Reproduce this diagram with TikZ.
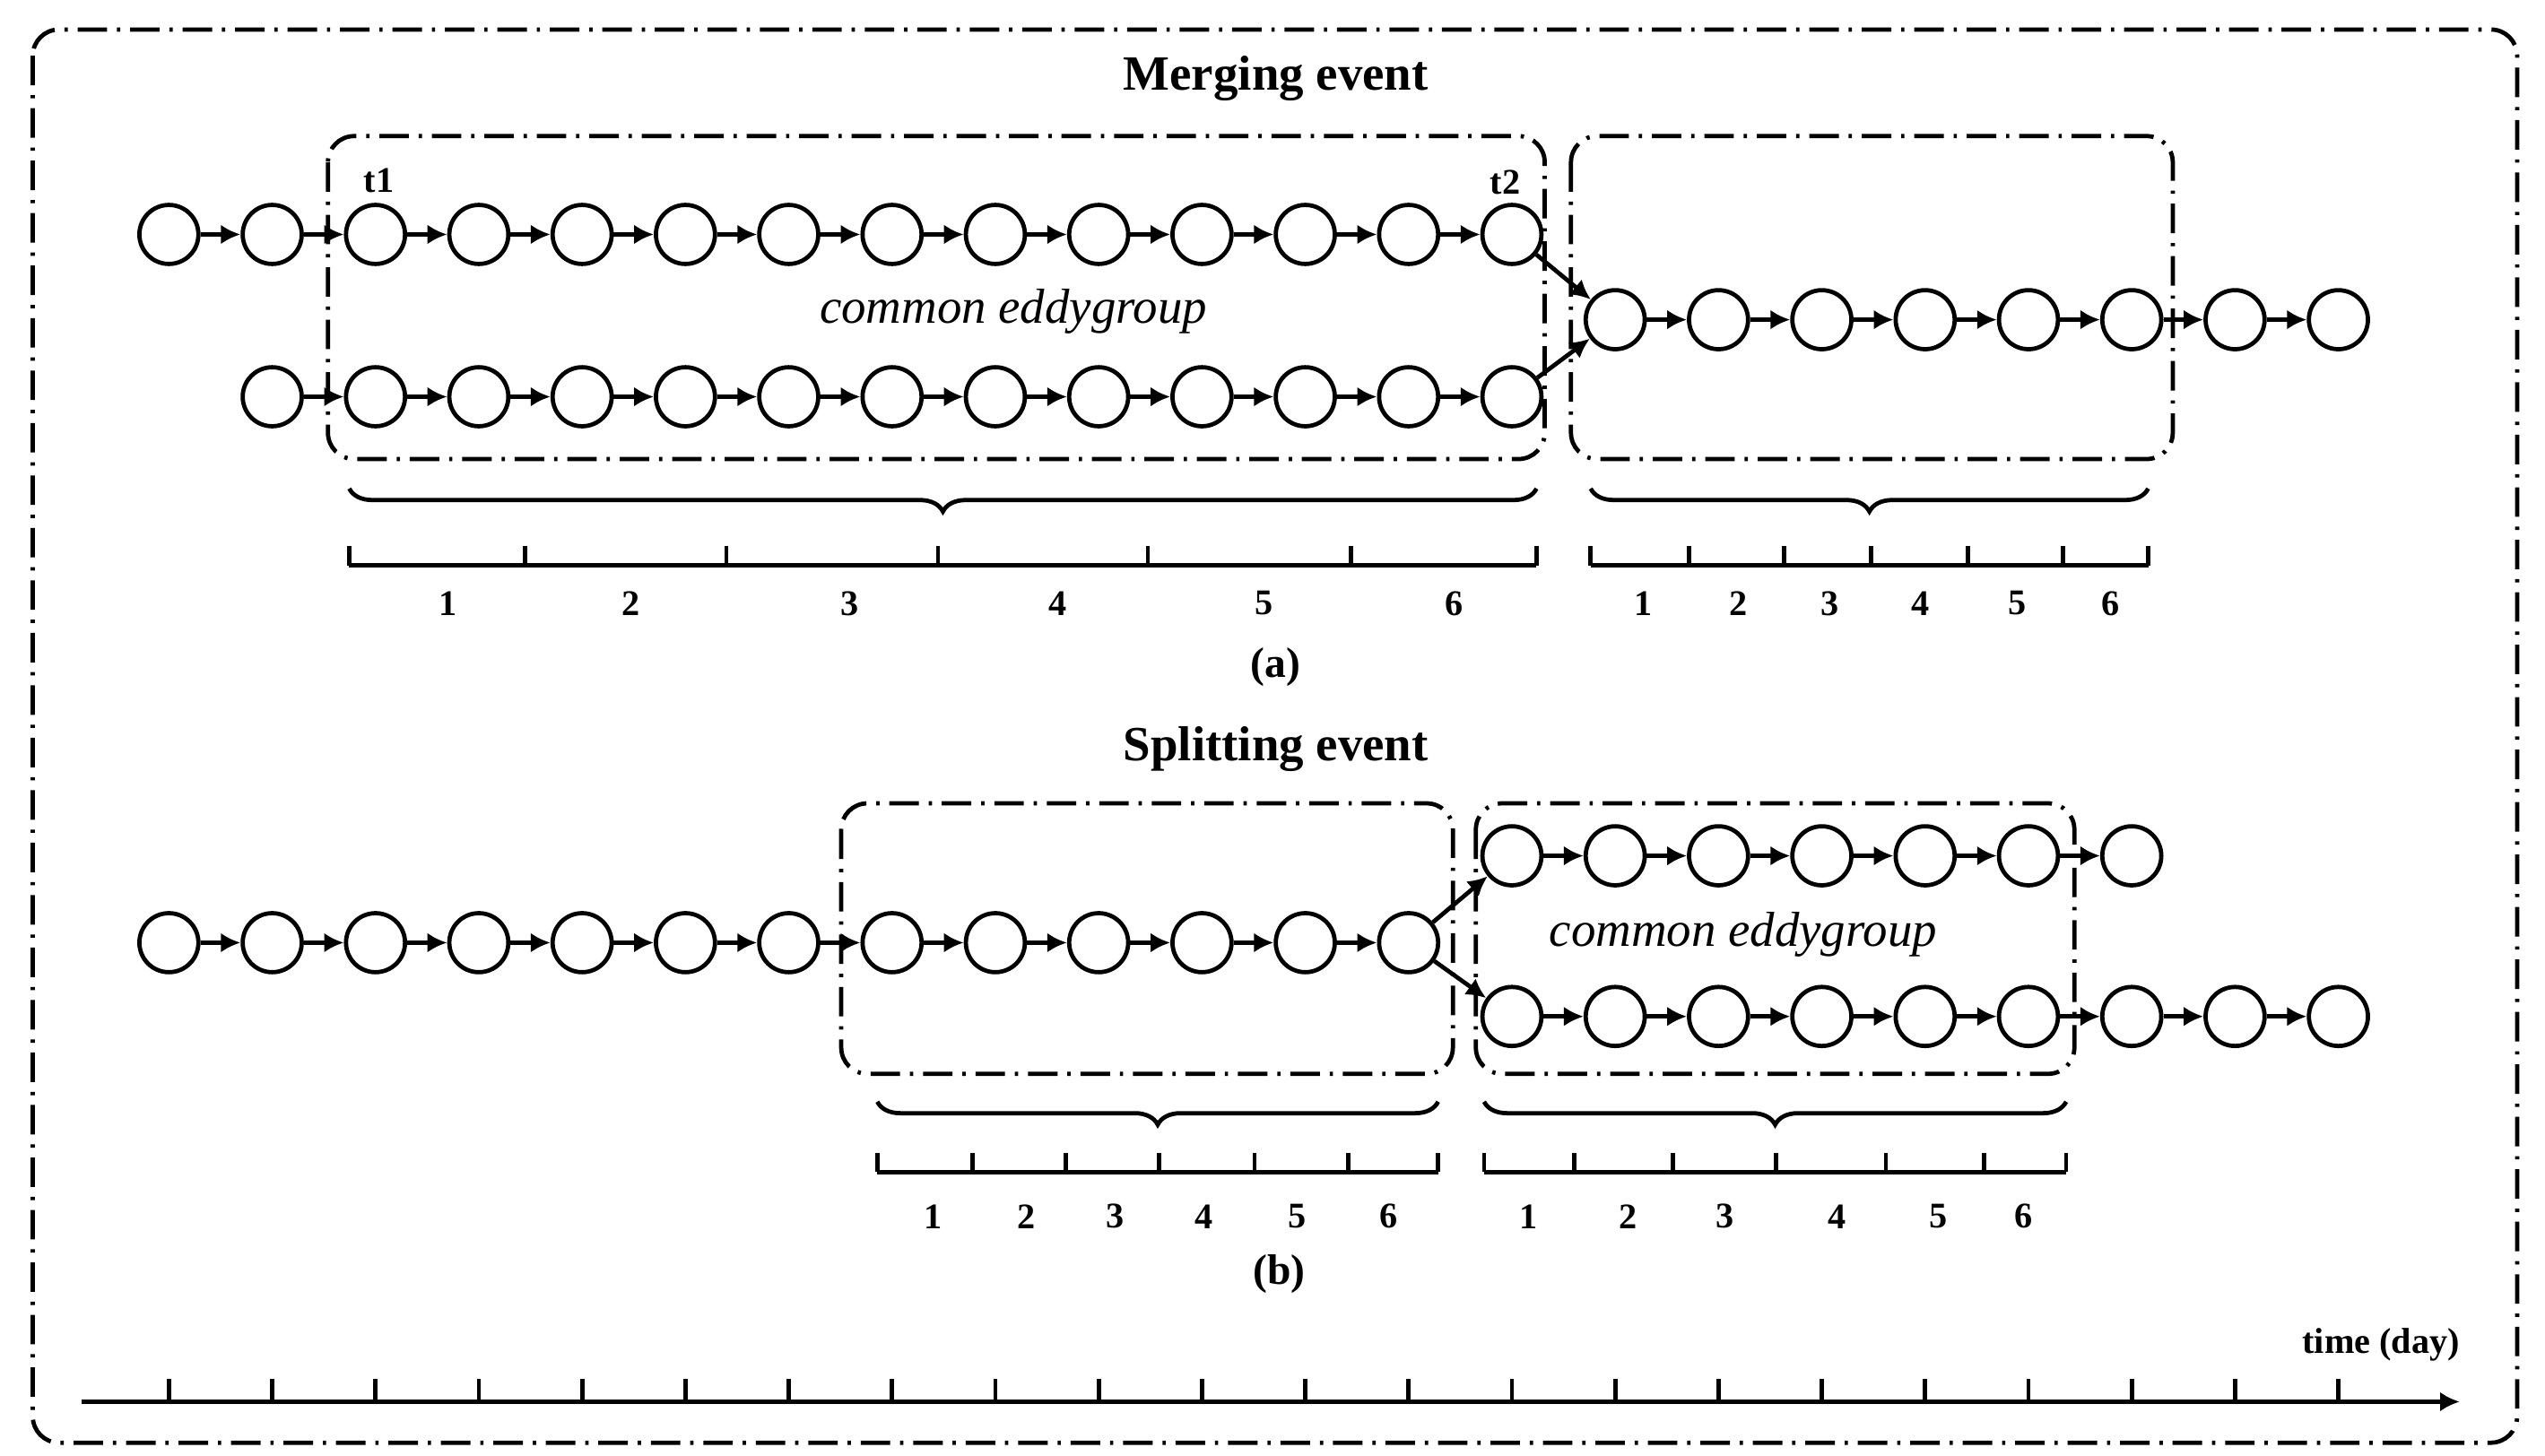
\documentclass[tikz,border=0pt]{standalone}
\usepackage{fontspec}
\setmainfont{Liberation Serif}
\usetikzlibrary{arrows.meta}
\usetikzlibrary{decorations.pathreplacing}

\tikzset{
  eddy/.style={circle,draw,line width=1.3pt,minimum size=18pt,inner sep=0pt},
  link/.style={line width=1.3pt,-{Latex[length=6pt,width=6pt]}},
  frame/.style={line width=1.3pt,dash pattern=on 9pt off 3pt on 1pt off 3pt,rounded corners=8pt},
  span/.style={line width=1.3pt,decorate,decoration={brace,mirror,amplitude=7pt}},
  bar/.style={line width=1.3pt},
  lab/.style={font=\bfseries\fontsize{11}{12}\selectfont},
  ttl/.style={font=\bfseries\fontsize{15}{17}\selectfont},
  cmn/.style={font=\itshape\fontsize{15}{17}\selectfont}
}

\begin{document}
\begin{tikzpicture}[x=0.5pt,y=-0.5pt]
\useasboundingbox (0,0) rectangle (1552,888);

%outer frame
\draw [frame] (20,18) rectangle (1535,880);

%Merging event
\node [ttl] (ttla) at (778,48) {Merging event};
\foreach \i in {0,...,13} \node [eddy] (a\i) at (103+63*\i,143) {};
\foreach \i in {1,...,13} \node [eddy] (b\i) at (103+63*\i,242) {};
\foreach \i in {14,...,21} \node [eddy] (c\i) at (103+63*\i,195) {};
\foreach \i [count=\j from 1] in {0,...,12} \draw [link] (a\i) -- (a\j);
\foreach \i [count=\j from 2] in {1,...,12} \draw [link] (b\i) -- (b\j);
\foreach \i [count=\j from 15] in {14,...,20} \draw [link] (c\i) -- (c\j);
\draw [link] (a13) -- (c14);
\draw [link] (b13) -- (c14);
\draw [frame] (200,83) rectangle (942,280);
\draw [frame] (958,83) rectangle (1325,280);
\node [lab] (t1) at (231,110) {t1};
\node [lab] (t2) at (918,111) {t2};
\node [cmn] (cga) at (618,190) {common eddygroup};

%day scales (a)
\draw [span] (213,298) -- (937,298);
\draw [span] (970,298) -- (1310,298);
\draw [bar] (213,345) -- (937,345);
\foreach \x in {213,320,443,572,700,824,937} \draw [bar] (\x,345) -- (\x,333);
\foreach \x [count=\n] in {273,385,518,645,771,887} \node [lab] at (\x,368) {\n};
\draw [bar] (970,345) -- (1310,345);
\foreach \x in {970,1030,1088,1141,1200,1258,1310} \draw [bar] (\x,345) -- (\x,333);
\foreach \x [count=\n] in {1002,1060,1116,1171,1230,1287} \node [lab] at (\x,368) {\n};
\node [lab,font=\bfseries\fontsize{13}{15}\selectfont] (capa) at (778,407) {(a)};

%Splitting event
\node [ttl] (ttlb) at (778,457) {Splitting event};
\foreach \i in {0,...,12} \node [eddy] (d\i) at (103+63*\i,575) {};
\foreach \i in {13,...,19} \node [eddy] (e\i) at (103+63*\i,522) {};
\foreach \i in {13,...,21} \node [eddy] (f\i) at (103+63*\i,620) {};
\foreach \i [count=\j from 1] in {0,...,11} \draw [link] (d\i) -- (d\j);
\foreach \i [count=\j from 14] in {13,...,18} \draw [link] (e\i) -- (e\j);
\foreach \i [count=\j from 14] in {13,...,20} \draw [link] (f\i) -- (f\j);
\draw [link] (d12) -- (e13);
\draw [link] (d12) -- (f13);
\draw [frame] (513,490) rectangle (886,655);
\draw [frame] (900,490) rectangle (1265,655);
\node [cmn] (cgb) at (1063,570) {common eddygroup};

%day scales (b)
\draw [span] (535,672) -- (877,672);
\draw [span] (905,672) -- (1260,672);
\draw [bar] (535,715) -- (877,715);
\foreach \x in {535,593,650,707,765,822,877} \draw [bar] (\x,715) -- (\x,703);
\foreach \x [count=\n] in {569,626,680,734,791,847} \node [lab] at (\x,742) {\n};
\draw [bar] (905,715) -- (1260,715);
\foreach \x in {905,960,1020,1083,1150,1210,1260} \draw [bar] (\x,715) -- (\x,703);
\foreach \x [count=\n] in {932,993,1052,1120,1182,1234} \node [lab] at (\x,742) {\n};
\node [lab,font=\bfseries\fontsize{13}{15}\selectfont] (capb) at (780,777) {(b)};

%time axis
\coordinate (ts) at (50,855);
\coordinate (te) at (1500,855);
\draw [link] (ts) -- (te);
\foreach \i in {0,...,21} \draw [bar] (103+63*\i,855) -- (103+63*\i,841);
\node [lab] (tday) at (1452,820) {time (day)};
\end{tikzpicture}
\end{document}
